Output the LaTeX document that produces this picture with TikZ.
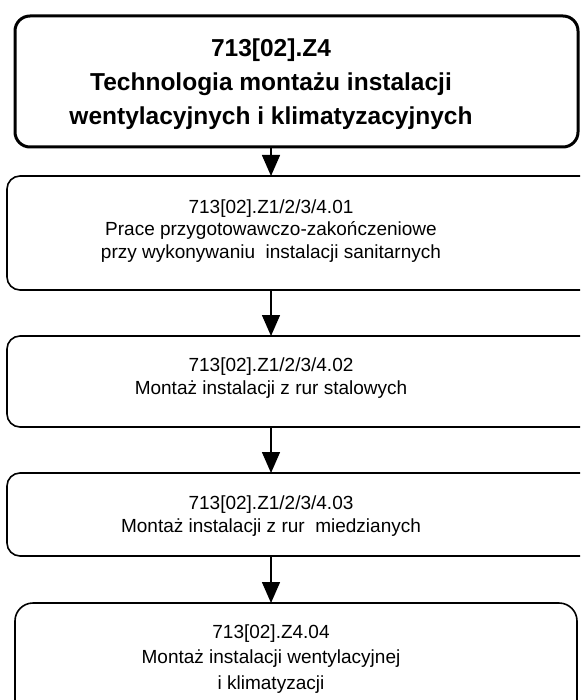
\documentclass[tikz,border=0pt]{standalone}
\usepackage{fontspec}
\setmainfont{Liberation Sans}
\usetikzlibrary{arrows.meta}
\begin{document}
\begin{tikzpicture}[x=1pt,y=-1pt,
  mainbox/.style={draw=black, line width=3pt, rounded corners=15pt, inner sep=0pt, outer sep=0pt},
  stepbox/.style={draw=black, line width=1.6pt, rounded corners=13pt, inner sep=0pt, outer sep=0pt},
  maintext/.style={align=center, inner sep=0pt, font=\fontsize{24.5}{34}\selectfont\bfseries},
  steptext/.style={align=center, inner sep=0pt, font=\fontsize{19}{22.5}\selectfont},
  flow/.style={line width=1.5pt, -{Triangle[width=18pt,length=21pt]}}]
\path[use as bounding box, clip] (0,0) rectangle (580,700);

% frames
\node[mainbox, minimum width=563pt, minimum height=131pt] (b1) at (296.5,81.5) {};
\node[stepbox, minimum width=593pt, minimum height=114pt] (b2) at (303.5,233) {};
\node[stepbox, minimum width=593pt, minimum height=91pt] (b3) at (303.5,381.5) {};
\node[stepbox, minimum width=593pt, minimum height=83pt] (b4) at (303.5,514.5) {};
\node[stepbox, rounded corners=18pt, minimum width=562pt, minimum height=127pt] (b5) at (296,666.5) {};

% labels
\node[maintext] (t1) at (271,84) {713[02].Z4\\Technologia montażu instalacji\\wentylacyjnych i klimatyzacyjnych};
\node[steptext] (t2) at (271,231) {713[02].Z1/2/3/4.01\\Prace przygotowawczo-zakończeniowe\\przy wykonywaniu\ \ instalacji sanitarnych};
\node[steptext] (t3) at (271,378) {713[02].Z1/2/3/4.02\\Montaż instalacji z rur stalowych};
\node[steptext] (t4) at (271,516) {713[02].Z1/2/3/4.03\\Montaż instalacji z rur\ \ miedzianych};
\node[steptext, font=\fontsize{19}{25.5}\selectfont] (t5) at (271,659) {713[02].Z4.04\\Montaż instalacji wentylacyjnej\\i klimatyzacji};

% connectors
\draw[flow] (b1.south -| t1) -- (b2.north -| t1);
\draw[flow] (b2.south -| t1) -- (b3.north -| t1);
\draw[flow] (b3.south -| t1) -- (b4.north -| t1);
\draw[flow] (b4.south -| t1) -- (b5.north -| t1);
\end{tikzpicture}
\end{document}
